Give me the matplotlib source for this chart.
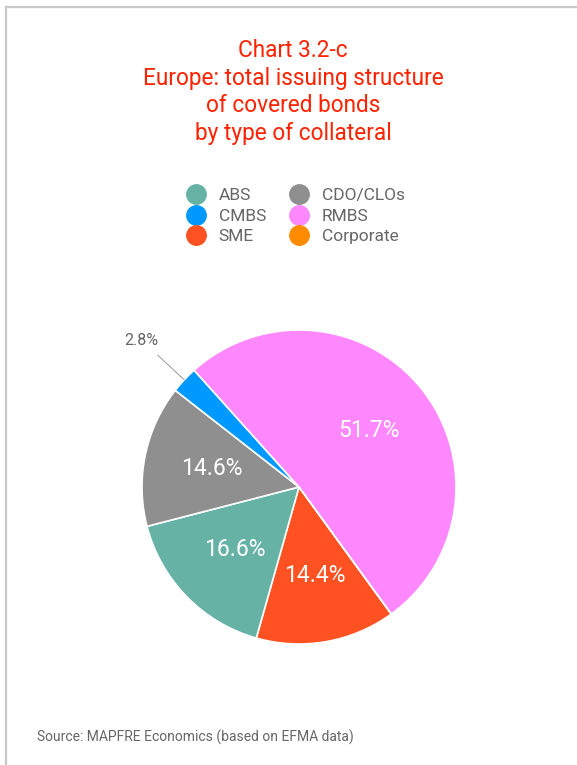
"""
Europe: covered bonds issuance by type of collateral (pie).
"""

import numpy as np
import matplotlib.pyplot as plt
from matplotlib.lines import Line2D

# data, in drawing order (clockwise from the SME/RMBS boundary)
segments = ["SME", "ABS", "CDO/CLOs", "CMBS", "RMBS", "Corporate"]
shares = [14.4, 16.6, 14.6, 2.8, 51.7, 0.0]
colours = ["#ff5122", "#66b3a6", "#8f8f8f", "#0099ff", "#ff88ff", "#ff8c00"]

# legend order (two columns, filled column-wise)
legend_order = ["ABS", "CMBS", "SME", "CDO/CLOs", "RMBS", "Corporate"]

title = "Chart 3.2-c\nEurope: total issuing structure\nof covered bonds\nby type of collateral"
source = "Source: MAPFRE Economics (based on EFMA data)"

W, H = 577, 765
fig = plt.figure(figsize=(W / 100, H / 100), dpi=100)
plt.rcParams["font.family"] = ["Roboto", "DejaVu Sans"]

# frame lines (top and left)
fig.add_artist(Line2D([6 / W, 1], [1 - 7 / H, 1 - 7 / H], color="#c8c8c8", lw=1.6))
fig.add_artist(Line2D([6 / W, 6 / W], [0, 1 - 7 / H], color="#c8c8c8", lw=1.6))

fig.text(293 / W, 1 - 92 / H, title, ha="center", va="center", color="#ff2200",
         fontsize=16.3, linespacing=1.27)

# pie
cx, cy, r = 299, 487, 157
ax = fig.add_axes([(cx - r) / W, 1 - (cy + r) / H, 2 * r / W, 2 * r / H])
wedges, _ = ax.pie(shares, colors=colours, startangle=-54, counterclock=False,
                   wedgeprops=dict(edgecolor="white", linewidth=1.2))
ax.set_xlim(-1, 1)
ax.set_ylim(-1, 1)
ax.set_aspect("auto")
ax.axis("off")

for w, val in zip(wedges, shares):
    if val <= 0:
        continue
    ang = np.deg2rad((w.theta1 + w.theta2) / 2)
    ca, sa = np.cos(ang), np.sin(ang)
    if val < 5:
        ax.plot([ca * 1.0, ca * 1.23], [sa * 1.0, sa * 1.23], color="#999999", lw=0.7,
                clip_on=False)
        ax.text(ca * 1.37, sa * 1.37, f"{val:.1f}%", ha="center", va="center",
                color="#666666", fontsize=11.5)
    else:
        ax.text(ca * 0.57, sa * 0.57, f"{val:.1f}%", ha="center", va="center",
                color="white", fontsize=16.5)

# legend
lookup = dict(zip(segments, colours))
handles = [Line2D([], [], marker="o", ls="none", markersize=14,
                  markerfacecolor=lookup[n], markeredgecolor=lookup[n]) for n in legend_order]
fig.legend(handles, legend_order, ncol=2, loc="center", bbox_to_anchor=(296 / W, 1 - 216 / H),
           frameon=False, fontsize=12.5, labelcolor="#666666", handletextpad=0.8,
           columnspacing=1.4, labelspacing=0.3, handlelength=1.0)

fig.text(37 / W, 1 - 737 / H, source, ha="left", va="center", color="#666666", fontsize=10)

fig.savefig("out.png", dpi=100)
